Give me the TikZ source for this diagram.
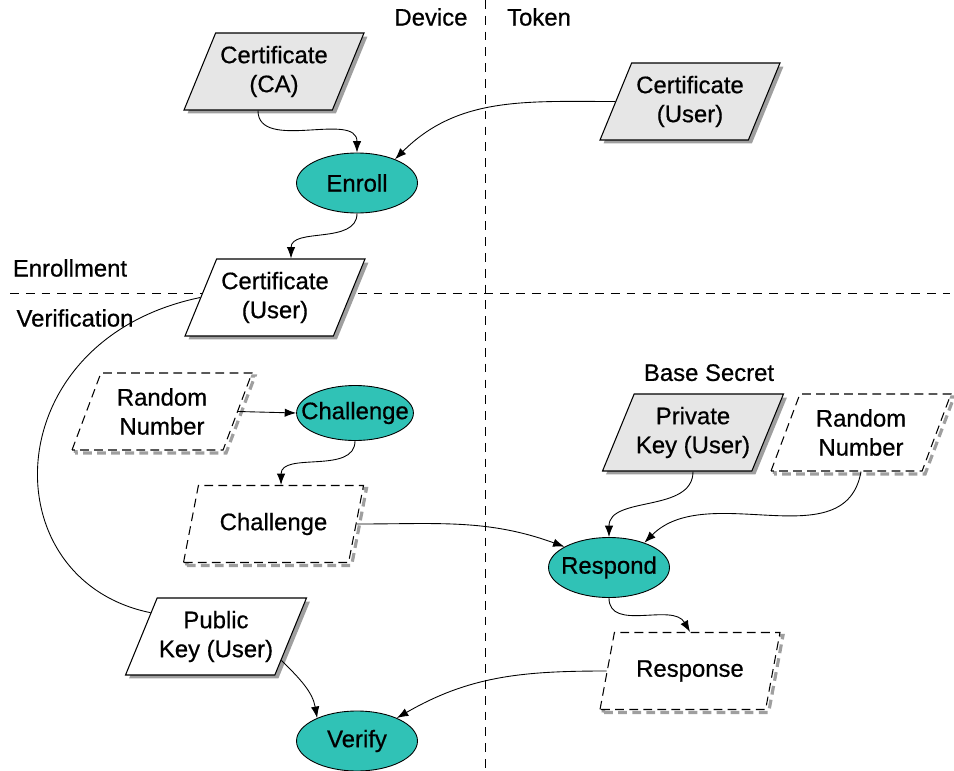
\documentclass[tikz,border=0pt]{standalone}
\usepackage{fontspec}
\setmainfont{Liberation Sans}[FakeBold=0.6]
\usetikzlibrary{shapes.geometric,arrows.meta,shadows}
\usetikzlibrary{positioning}
\definecolor{procfill}{RGB}{48,194,182}
\definecolor{keyfill}{RGB}{230,230,230}
\tikzset{>={Latex[length=6.5pt,width=4.8pt]}, font=\fontsize{13.6}{16.5}\selectfont}
\tikzstyle{datashape} = [draw, fill=white, trapezium, trapezium left angle=60, trapezium right angle=120, trapezium stretches body, minimum height=1.54cm, minimum width=3.6cm, inner sep=1pt, align=center, line width=0.6pt]
\tikzstyle{data} = [datashape, drop shadow={opacity=1, fill=gray!75, shadow xshift=0.07cm, shadow yshift=-0.07cm}]
\tikzstyle{secret} = [data, fill=keyfill]
\tikzstyle{temp} = [datashape, dash pattern=on 5pt off 3pt, drop shadow={opacity=1, fill=none, draw=gray!75, line width=1.8pt, dash pattern=on 5pt off 3pt, shadow xshift=0.06cm, shadow yshift=-0.06cm}]
\tikzstyle{process} = [draw, fill=procfill, ellipse, minimum width=2.42cm, minimum height=1.2cm, inner xsep=-0.25cm, inner ysep=-0.1cm, line width=0.5pt]
\tikzstyle{phase} = [inner sep=0pt]
\tikzstyle{divider} = [dash pattern=on 5pt off 4pt, line width=0.5pt]
\tikzstyle{link} = [->, line width=0.5pt]

\begin{document}
\begin{tikzpicture}[x=0.02cm, y=-0.02cm]
    \useasboundingbox (0,0) rectangle (954,771);
    \coordinate (split_top) at (485,0);
    \coordinate (split_bot) at (485,771);
    \coordinate (phase_l) at (10,293);
    \coordinate (phase_r) at (950,293);
    \draw [divider] (split_top) -- (split_bot);
    \draw [divider] (phase_l) -- (phase_r);

    \node [phase] (device) at (431,17) {Device};
    \node [phase] (token) at (539,17) {Token};
    \node [phase] (enrollment) at (70,268) {Enrollment};
    \node [phase] (verification) at (75,318) {Verification};

    \node [secret] (cert_ca) at (274,71.5) {Certificate\\(CA)};
    \node [secret] (cert_tok) at (690,101.5) {Certificate\\(User)};
    \node [process] (enroll) at (357,183) {Enroll};
    \node [data] (cert_user) at (275,297.5) {Certificate\\(User)};
    \node [temp] (rand_dev) at (162,411.5) {Random\\Number};
    \node [process, minimum width=2.32cm, minimum height=1.1cm] (chal) at (355,413) {Challenge};
    \node [temp] (chal_msg) at (273.5,524) {Challenge};
    \node [secret] (priv_key) at (693,432.5) {Private\\Key (User)};
    \node [phase, above=0.24cm of priv_key.top side] (base) {Base Secret};
    \node [temp] (rand_tok) at (861,432.5) {Random\\Number};
    \node [process] (respond) at (609,567.5) {Respond};
    \node [temp] (response) at (690,671) {Response};
    \node [data] (pub_key) at (216,636.5) {Public\\Key (User)};
    \node [process] (verify) at (357,741) {Verify};

    \draw [link] (cert_ca.bottom side) to [out=-90, in=90] (enroll.north);
    \draw [link] (cert_tok.west) to [out=180, in=45] (enroll.32);
    \draw [link] (enroll.south) to [out=-90, in=90] (cert_user.top side);
    \draw [line width=0.5pt] (cert_user.west) .. controls (-5,340) and (-10,580) .. (pub_key.160);
    \draw [link] (rand_dev.east) -- (chal.west);
    \draw [link] (chal.south) to [out=-90, in=90] (chal_msg.top side);
    \draw [link] (chal_msg.east) to [out=0, in=160] (respond.155);
    \draw [link] (priv_key.south) to [out=-90, in=90] (respond.north);
    \draw [link] (rand_tok.south) to [out=-100, in=45] (respond.35);
    \draw [link] (respond.south) to [out=-90, in=120] (response.north);
    \draw [link] (response.west) to [out=180, in=30] (verify.30);
    \draw [link] (pub_key.-20) to [out=-45, in=100] (verify.150);
\end{tikzpicture}
\end{document}
